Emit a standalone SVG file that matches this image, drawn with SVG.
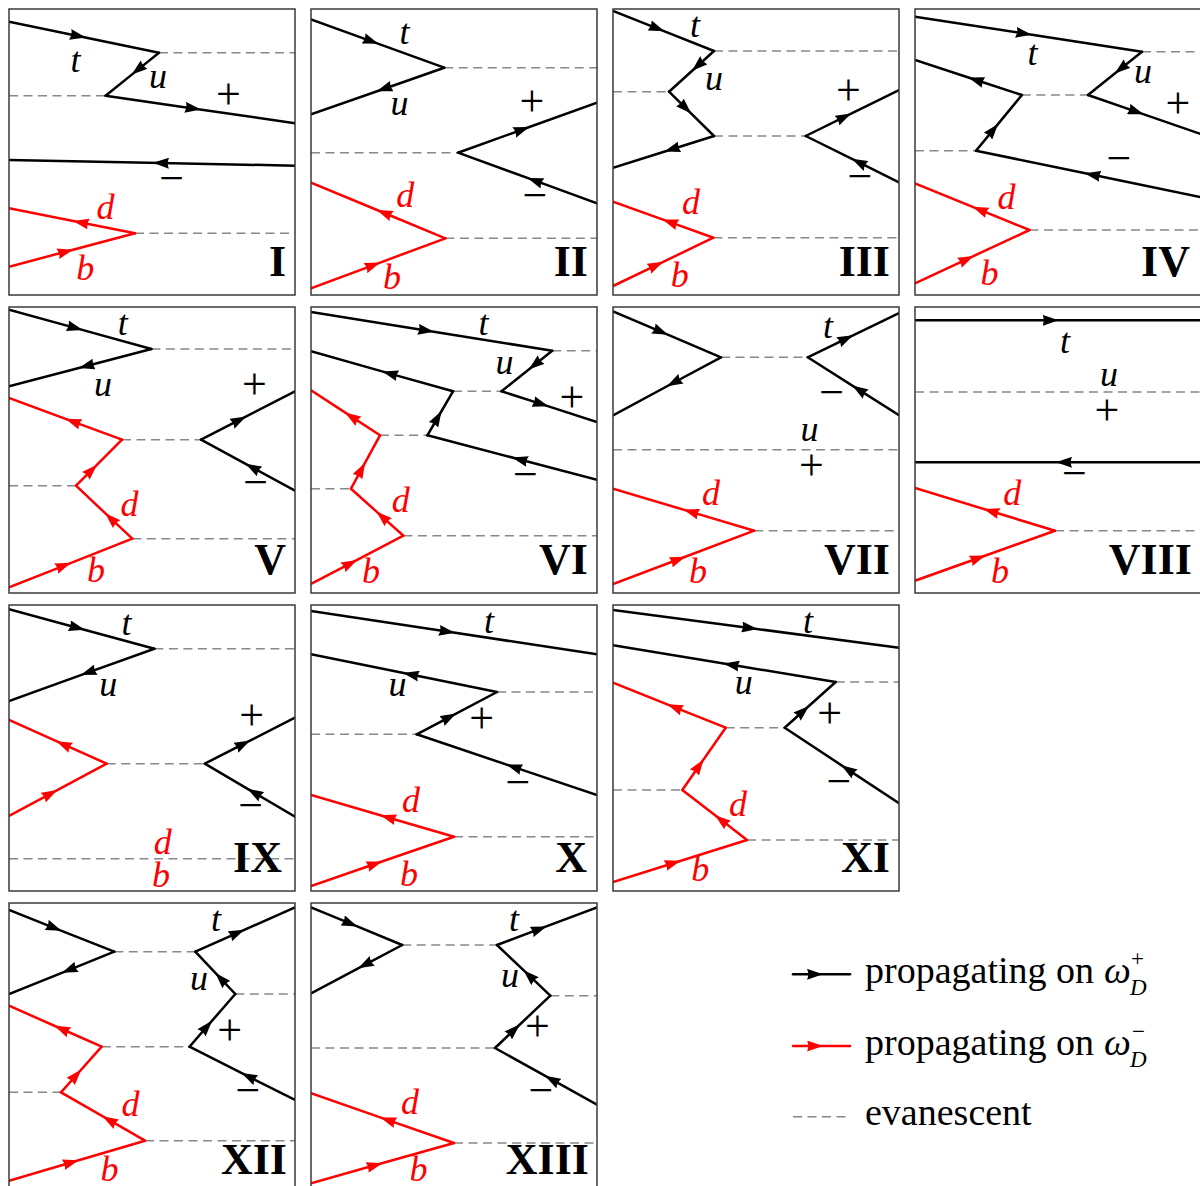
<svg xmlns="http://www.w3.org/2000/svg" width="1200" height="1186" viewBox="0 0 1200 1186">
<defs>
<style>
.fr{fill:none;stroke:#3a3a3a;stroke-width:1.5}
.k{fill:none;stroke:#000;stroke-width:2.5;stroke-linecap:round;stroke-linejoin:round;marker-mid:url(#ak)}
.r{fill:none;stroke:#f00;stroke-width:2.5;stroke-linecap:round;stroke-linejoin:round;marker-mid:url(#ar)}
.ev{fill:none;stroke:#888;stroke-width:1.6;stroke-dasharray:9 5.5}
.lb{font-family:"Liberation Serif",serif;font-style:italic;font-size:36px;text-anchor:middle;fill:#000}
.rd{fill:#f00}
.pm{font-family:"Liberation Serif",serif;font-size:44px;text-anchor:middle;fill:#000}
.nm{font-family:"Liberation Serif",serif;font-weight:bold;font-size:44px;text-anchor:end;fill:#000}
.lg{font-family:"Liberation Serif",serif;font-size:38px;fill:#000}
.sc{font-family:"Liberation Serif",serif;font-size:23px;fill:#000}
</style>
<marker id="ak" markerUnits="userSpaceOnUse" viewBox="0 0 16 11" markerWidth="16" markerHeight="11" refX="8" refY="5.5" orient="auto"><path d="M0,0L16,5.5L0,11Q2.5,5.5 0,0z" fill="#000"/></marker>
<marker id="ar" markerUnits="userSpaceOnUse" viewBox="0 0 16 11" markerWidth="16" markerHeight="11" refX="8" refY="5.5" orient="auto"><path d="M0,0L16,5.5L0,11Q2.5,5.5 0,0z" fill="#f00"/></marker>
<clipPath id="cp"><rect x="0" y="0" width="286" height="286"/></clipPath>
</defs>
<rect width="1200" height="1186" fill="#fff"/>

<g id="panel-I" transform="translate(9,9)">
<g clip-path="url(#cp)">
<path class="ev" d="M150,43.7H286M0,86.7H96.6M126,224.3H286"/>
<g id="conn-I">
<path class="k" d="M0,12.7L69,27L150,43.7"/>
<path class="k" d="M150,43.7L129,60.6L96.6,86.7"/>
<path class="k" d="M96.6,86.7L184,99.4L286,114.3"/>
<path class="k" d="M286,156.7L152,154L0,151"/>
<path class="r" d="M126,224.3L71.8,213.5L0,199.3"/>
<path class="r" d="M0,257.7L56.5,242.7L126,224.3"/>
</g>
</g>
<rect class="fr" width="286" height="286"/>
<text class="lb" x="66.4" y="63">t</text>
<text class="lb" x="148.9" y="79">u</text>
<text class="pm" x="219.5" y="100">+</text>
<text class="pm" x="162.6" y="184">−</text>
<text class="lb rd" x="96.6" y="210">d</text>
<text class="lb rd" x="76.3" y="271">b</text>
<text class="nm" x="277" y="267">I</text>
</g>

<g id="panel-II" transform="translate(311,9)">
<g clip-path="url(#cp)">
<path class="ev" d="M133.2,58.7H286M0,143.7H147M134.4,229.3H286"/>
<g id="conn-II">
<path class="k" d="M0,10.3L60,32.1L133.2,58.7"/>
<path class="k" d="M133.2,58.7L73.3,79.7L0,105.3"/>
<path class="k" d="M147,143.7L210.7,120.8L286,93.7"/>
<path class="k" d="M286,194.3L224,171.7L147,143.7"/>
<path class="r" d="M134.4,229.3L73.3,204L0,173.7"/>
<path class="r" d="M0,279.3L61.8,256.3L134.4,229.3"/>
</g>
</g>
<rect class="fr" width="286" height="286"/>
<text class="lb" x="93.5" y="35">t</text>
<text class="lb" x="88.5" y="106">u</text>
<text class="pm" x="221" y="107">+</text>
<text class="pm" x="224" y="201">−</text>
<text class="lb rd" x="94.3" y="198">d</text>
<text class="lb rd" x="81" y="280">b</text>
<text class="nm" x="277" y="267">II</text>
</g>

<g id="panel-III" transform="translate(613,9)">
<g clip-path="url(#cp)">
<path class="ev" d="M101,42H286M0,82.7H56M101,127H192.7M100.4,228.7H286"/>
<g id="conn-III">
<path class="k" d="M0,2L44,19.4L101,42"/>
<path class="k" d="M101,42L85,56.5L56,82.7"/>
<path class="k" d="M56,82.7L72.5,98.9L101,127"/>
<path class="k" d="M101,127L59,140.2L0,158.7"/>
<path class="k" d="M192.7,127L231,108.1L286,81"/>
<path class="k" d="M286,173.3L246,153.4L192.7,127"/>
<path class="r" d="M100.4,228.7L57,213.1L0,192.7"/>
<path class="r" d="M0,277L43,256.3L100.4,228.7"/>
</g>
</g>
<rect class="fr" width="286" height="286"/>
<text class="lb" x="82" y="28">t</text>
<text class="lb" x="101" y="81">u</text>
<text class="pm" x="235.5" y="96">+</text>
<text class="pm" x="247" y="182">−</text>
<text class="lb rd" x="78" y="205">d</text>
<text class="lb rd" x="66.8" y="278">b</text>
<text class="nm" x="277" y="267">III</text>
</g>

<g id="panel-IV" transform="translate(915,9)">
<g clip-path="url(#cp)">
<path class="ev" d="M227,42.7H286M106.9,86H173M0,141.7H61M114.5,221H286"/>
<g id="conn-IV">
<path class="k" d="M0,7.7L108.8,24.5L227,42.7"/>
<path class="k" d="M227,42.7L206,59.5L173,86"/>
<path class="k" d="M173,86L221,102.6L286,125.1"/>
<path class="k" d="M106.9,86L61,71L0,51"/>
<path class="k" d="M61,141.7L78,121.1L106.9,86"/>
<path class="k" d="M286,188.2L177.5,165.8L61,141.7"/>
<path class="r" d="M114.5,221L65,200.8L0,174.3"/>
<path class="r" d="M0,274.3L51.5,250.3L114.5,221"/>
</g>
</g>
<rect class="fr" width="286" height="286"/>
<text class="lb" x="117.6" y="56">t</text>
<text class="lb" x="228" y="74">u</text>
<text class="pm" x="263" y="109">+</text>
<text class="pm" x="204" y="164">−</text>
<text class="lb rd" x="91.6" y="200">d</text>
<text class="lb rd" x="74.4" y="276">b</text>
<text class="nm" x="275" y="267">IV</text>
</g>

<g id="panel-V" transform="translate(9,307)">
<g clip-path="url(#cp)">
<path class="ev" d="M142.4,42H286M113,132.7H192M0,178.7H67M123.3,231.7H286"/>
<g id="conn-V">
<path class="k" d="M0,2.7L66,20.9L142.4,42"/>
<path class="k" d="M142.4,42L77.5,59L0,79.3"/>
<path class="k" d="M192,132.7L230,113.1L286,84.3"/>
<path class="k" d="M286,183.7L243.5,160.6L192,132.7"/>
<path class="r" d="M113,132.7L64,114.6L0,91"/>
<path class="r" d="M67,178.7L82.4,163.3L113,132.7"/>
<path class="r" d="M123.3,231.7L102,211.7L67,178.7"/>
<path class="r" d="M0,280.3L54.6,258.8L123.3,231.7"/>
</g>
</g>
<rect class="fr" width="286" height="286"/>
<text class="lb" x="113.7" y="28">t</text>
<text class="lb" x="94" y="89">u</text>
<text class="pm" x="245.4" y="92">+</text>
<text class="pm" x="246.6" y="190">−</text>
<text class="lb rd" x="120.6" y="209">d</text>
<text class="lb rd" x="87" y="275">b</text>
<text class="nm" x="277" y="267">V</text>
</g>

<g id="panel-VI" transform="translate(311,307)">
<g clip-path="url(#cp)">
<path class="ev" d="M241.2,43.7H286M142,84.3H190.5M69,128.3H116.4M0,181.7H40M92.4,228.7H286"/>
<g id="conn-VI">
<path class="k" d="M0,5L115,23.5L241.2,43.7"/>
<path class="k" d="M241.2,43.7L224,57.5L190.5,84.3"/>
<path class="k" d="M190.5,84.3L229.8,96.9L286,115"/>
<path class="k" d="M142,84.3L79,66.6L0,44.3"/>
<path class="k" d="M116.4,128.3L126.5,111L142,84.3"/>
<path class="k" d="M286,172.7L208.8,152.5L116.4,128.3"/>
<path class="r" d="M69,128.3L40.8,109.9L0,83.3"/>
<path class="r" d="M40,181.7L50.3,162.7L69,128.3"/>
<path class="r" d="M92.4,228.7L71.4,209.9L40,181.7"/>
<path class="r" d="M0,277L39,256.6L92.4,228.7"/>
</g>
</g>
<rect class="fr" width="286" height="286"/>
<text class="lb" x="172.5" y="28">t</text>
<text class="lb" x="193.5" y="67">u</text>
<text class="pm" x="261" y="105">+</text>
<text class="pm" x="214.5" y="182">−</text>
<text class="lb rd" x="89.7" y="205">d</text>
<text class="lb rd" x="60" y="276">b</text>
<text class="nm" x="277" y="267">VI</text>
</g>

<g id="panel-VII" transform="translate(613,307)">
<g clip-path="url(#cp)">
<path class="ev" d="M108,50.3H194.7M0,142.7H286M141.2,223.7H286"/>
<g id="conn-VII">
<path class="k" d="M0,4.3L47.7,24.6L108,50.3"/>
<path class="k" d="M108,50.3L61,75.5L0,108.3"/>
<path class="k" d="M194.7,50.3L232.8,31.8L286,6"/>
<path class="k" d="M286,108.3L246,82.9L194.7,50.3"/>
<path class="r" d="M141.2,223.7L78,204.9L0,181.7"/>
<path class="r" d="M0,277L65,252.5L141.2,223.7"/>
</g>
</g>
<rect class="fr" width="286" height="286"/>
<text class="lb" x="215" y="31">t</text>
<text class="pm" x="218.7" y="100">−</text>
<text class="lb" x="196.6" y="134">u</text>
<text class="pm" x="198.5" y="173">+</text>
<text class="lb rd" x="98" y="198">d</text>
<text class="lb rd" x="85" y="276">b</text>
<text class="nm" x="277" y="267">VII</text>
</g>

<g id="panel-VIII" transform="translate(915,307)">
<g clip-path="url(#cp)">
<path class="ev" d="M0,85H286M140,223.7H286"/>
<g id="conn-VIII">
<path class="k" d="M0,13.3L135.5,13.3L286,13.3"/>
<path class="k" d="M286,155.3L149,155.3L0,155.3"/>
<path class="r" d="M140,223.7L76.3,204.3L0,181"/>
<path class="r" d="M0,273.7L63,251.2L140,223.7"/>
</g>
</g>
<rect class="fr" width="286" height="286"/>
<text class="lb" x="150" y="46">t</text>
<text class="lb" x="194" y="79">u</text>
<text class="pm" x="192" y="118">+</text>
<text class="pm" x="159.5" y="181">−</text>
<text class="lb rd" x="97.3" y="198">d</text>
<text class="lb rd" x="85" y="276">b</text>
<text class="nm" x="277" y="267">VIII</text>
</g>

<g id="panel-IX" transform="translate(9,605)">
<g clip-path="url(#cp)">
<path class="ev" d="M145.4,43.7H286M97.7,158.7H195.8M0,253.7H286"/>
<g id="conn-IX">
<path class="k" d="M0,4.3L68,22.7L145.4,43.7"/>
<path class="k" d="M145.4,43.7L79.4,67.4L0,96"/>
<path class="k" d="M195.8,158.7L234,139.2L286,112.7"/>
<path class="k" d="M286,211.7L245.4,187.8L195.8,158.7"/>
<path class="r" d="M97.7,158.7L54.6,139.4L0,115"/>
<path class="r" d="M0,211L41.2,188.9L97.7,158.7"/>
</g>
</g>
<rect class="fr" width="286" height="286"/>
<text class="lb" x="117.6" y="30">t</text>
<text class="lb" x="99.2" y="91">u</text>
<text class="pm" x="242.7" y="125">+</text>
<text class="pm" x="241.6" y="215">−</text>
<text class="lb rd" x="153.8" y="249">d</text>
<text class="lb rd" x="152" y="282">b</text>
<text class="nm" x="273" y="267">IX</text>
</g>

<g id="panel-X" transform="translate(311,605)">
<g clip-path="url(#cp)">
<path class="ev" d="M186,87H286M0,129.3H105.7M143,231.7H286"/>
<g id="conn-X">
<path class="k" d="M0,6L136,26.6L286,49.3"/>
<path class="k" d="M186,87L100,69.6L0,49.3"/>
<path class="k" d="M105.7,129.3L138,112.3L186,87"/>
<path class="k" d="M286,190L203,162.1L105.7,129.3"/>
<path class="r" d="M143,231.7L77,212.5L0,190"/>
<path class="r" d="M0,281L63.7,259L143,231.7"/>
</g>
</g>
<rect class="fr" width="286" height="286"/>
<text class="lb" x="178" y="28">t</text>
<text class="lb" x="86.6" y="91">u</text>
<text class="pm" x="170.6" y="128">+</text>
<text class="pm" x="207" y="192">−</text>
<text class="lb rd" x="100" y="207">d</text>
<text class="lb rd" x="98" y="281">b</text>
<text class="nm" x="276" y="267">X</text>
</g>

<g id="panel-XI" transform="translate(613,605)">
<g clip-path="url(#cp)">
<path class="ev" d="M222.7,77H286M112.7,122.7H171.7M0,185H69.3M134,235H286"/>
<g id="conn-XI">
<path class="k" d="M0,5L136.7,23L286,42.7"/>
<path class="k" d="M222.7,77L118.3,59.8L0,40.3"/>
<path class="k" d="M171.7,122.7L190,106.3L222.7,77"/>
<path class="k" d="M286,198.3L235,164.6L171.7,122.7"/>
<path class="r" d="M112.7,122.7L61.7,102.3L0,77.7"/>
<path class="r" d="M69.3,185L86,161L112.7,122.7"/>
<path class="r" d="M134,235L108.3,215.1L69.3,185"/>
<path class="r" d="M0,277L60,258.2L134,235"/>
</g>
</g>
<rect class="fr" width="286" height="286"/>
<text class="lb" x="195" y="28">t</text>
<text class="lb" x="130.7" y="89">u</text>
<text class="pm" x="216.7" y="123">+</text>
<text class="pm" x="226" y="191">−</text>
<text class="lb rd" x="125" y="211">d</text>
<text class="lb rd" x="87.3" y="276">b</text>
<text class="nm" x="277" y="267">XI</text>
</g>

<g id="panel-XII" transform="translate(9,903)">
<g clip-path="url(#cp)">
<path class="ev" d="M105.3,48.7H186.3M226.3,91H286M92.7,143.7H180.5M0,189.3H52M136,237.7H286"/>
<g id="conn-XII">
<path class="k" d="M0,7L45,24.8L105.3,48.7"/>
<path class="k" d="M105.3,48.7L60.3,66.8L0,91"/>
<path class="k" d="M186.3,48.7L228,30.1L286,4.3"/>
<path class="k" d="M226.3,91L212,75.9L186.3,48.7"/>
<path class="k" d="M180.5,143.7L197.7,123.9L226.3,91"/>
<path class="k" d="M286,197L239.7,173.6L180.5,143.7"/>
<path class="r" d="M92.7,143.7L52.7,126L0,102.7"/>
<path class="r" d="M52,189.3L67,172.5L92.7,143.7"/>
<path class="r" d="M136,237.7L100.4,217.2L52,189.3"/>
<path class="r" d="M0,277.7L62,259.5L136,237.7"/>
</g>
</g>
<rect class="fr" width="286" height="286"/>
<text class="lb" x="207" y="28">t</text>
<text class="lb" x="190" y="87">u</text>
<text class="pm" x="220.6" y="142">+</text>
<text class="pm" x="239" y="202">−</text>
<text class="lb rd" x="121.4" y="213">d</text>
<text class="lb rd" x="100.4" y="278">b</text>
<text class="nm" x="278" y="271">XII</text>
</g>

<g id="panel-XIII" transform="translate(311,903)">
<g clip-path="url(#cp)">
<path class="ev" d="M91.2,42H186M239.3,92.7H286M0,145H184M143,240H286"/>
<g id="conn-XIII">
<path class="k" d="M0,4.3L39,20.4L91.2,42"/>
<path class="k" d="M91.2,42L54.2,61.6L0,90.3"/>
<path class="k" d="M186,42L228,26.2L286,4.3"/>
<path class="k" d="M239.3,92.7L218.3,72.7L186,42"/>
<path class="k" d="M184,145L203,127L239.3,92.7"/>
<path class="k" d="M286,201.7L241,176.7L184,145"/>
<path class="r" d="M143,240L77,217.1L0,190.3"/>
<path class="r" d="M0,280.3L63.7,262.3L143,240"/>
</g>
</g>
<rect class="fr" width="286" height="286"/>
<text class="lb" x="203" y="28">t</text>
<text class="lb" x="199" y="84">u</text>
<text class="pm" x="226.4" y="138">+</text>
<text class="pm" x="229.8" y="202">−</text>
<text class="lb rd" x="98.9" y="211">d</text>
<text class="lb rd" x="107.6" y="278">b</text>
<text class="nm" x="278" y="271">XIII</text>
</g>

<g id="legend">
<path class="k" d="M793,974.3L815,974.3L850,974.3"/>
<path class="r" d="M793,1046L815,1046L850,1046"/>
<path class="ev" d="M793,1116.7H850"/>
<text class="lg" x="865" y="983">propagating on</text>
<text class="lg" x="1104" y="983" font-style="italic">ω</text>
<text class="sc" x="1131" y="966">+</text>
<text class="sc" x="1130" y="995" font-style="italic">D</text>
<text class="lg" x="865" y="1055">propagating on</text>
<text class="lg" x="1104" y="1055" font-style="italic">ω</text>
<text class="sc" x="1132" y="1039">−</text>
<text class="sc" x="1130" y="1067" font-style="italic">D</text>
<text class="lg" x="865" y="1125">evanescent</text>
</g>
</svg>
